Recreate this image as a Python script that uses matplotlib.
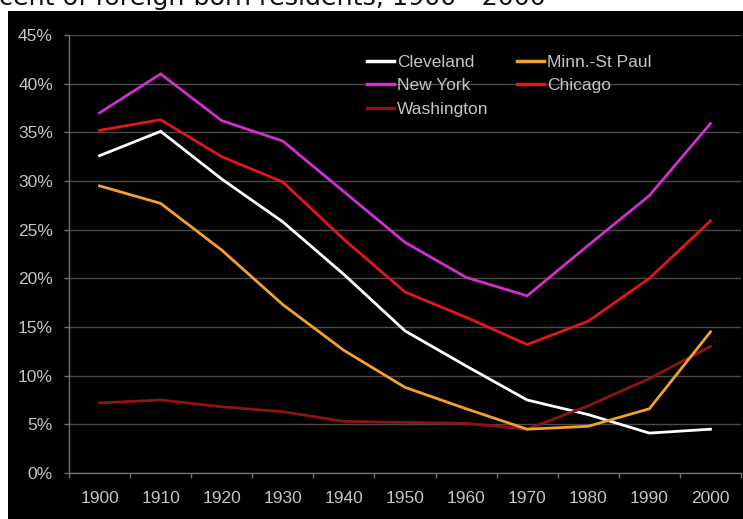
import matplotlib
matplotlib.use("Agg")
import matplotlib.pyplot as plt
from matplotlib.patches import Rectangle

years = ["1900", "1910", "1920", "1930", "1940", "1950", "1960", "1970", "1980", "1990", "2000"]
cleveland = [32.6, 35.1, 30.2, 25.8, 20.4, 14.6, 11.0, 7.5, 6.0, 4.1, 4.5]
minn_st_paul = [29.5, 27.7, 22.9, 17.3, 12.6, 8.8, 6.6, 4.5, 4.8, 6.6, 14.5]
new_york = [37.0, 41.0, 36.2, 34.1, 28.9, 23.7, 20.1, 18.2, 23.4, 28.5, 35.9]
chicago = [35.2, 36.3, 32.5, 29.9, 24.0, 18.6, 16.0, 13.2, 15.6, 20.0, 25.9]
washington = [7.2, 7.5, 6.8, 6.3, 5.3, 5.2, 5.1, 4.5, 6.9, 9.7, 13.0]
title_text = "cent of foreign-born residents, 1900 - 2000"

W, H = 743, 519
fig = plt.figure(figsize=(W / 100, H / 100), dpi=100, facecolor="white")
# black panel behind the chart
fig.patches.append(Rectangle((8 / W, 0), 1 - 8 / W, 1 - 11 / H, transform=fig.transFigure,
                             facecolor="black", edgecolor="none", zorder=-5))
fig.text(-1 / W, 1 - 5.5 / H, title_text, ha="left", va="baseline", fontsize=18.3,
         family="DejaVu Sans", color="#111111", zorder=-4)

ax = fig.add_axes([69 / W, 1 - 473 / H, (741 - 69) / W, (473 - 35) / H])
ax.set_facecolor("black")
x = list(range(len(years)))
series = [
    ("Cleveland", cleveland, "#ffffff"),
    ("New York", new_york, "#d22ed2"),
    ("Washington", washington, "#8e1414"),
    ("Minn.-St Paul", minn_st_paul, "#f2a12c"),
    ("Chicago", chicago, "#e3161b"),
]
handles = []
for name, vals, col in series:
    h, = ax.plot(x, vals, color=col, lw=2.0, label=name, solid_joinstyle="miter")
    handles.append(h)

ax.set_xlim(-0.5, len(years) - 0.5)
ax.set_ylim(0, 45)
ax.set_yticks(range(0, 46, 5))
ax.set_yticklabels([f"{v}%" for v in range(0, 46, 5)])
ax.set_xticks(x)
ax.set_xticklabels(years)
ax.set_xticks([i - 0.5 for i in range(len(years) + 1)], minor=True)
ax.tick_params(axis="x", which="major", length=0, pad=12.8)
ax.tick_params(axis="x", which="minor", length=3.6, color="#707070", width=1)
ax.tick_params(axis="y", length=3.6, color="#707070", width=1, pad=8)
for lab in ax.get_xticklabels() + ax.get_yticklabels():
    lab.set_family("Liberation Sans")
    lab.set_fontsize(12.5)
    lab.set_color("#c4c4c4")
ax.grid(axis="y", color="#4a4a4a", lw=1)
ax.set_axisbelow(True)
for s in ["top", "right"]:
    ax.spines[s].set_visible(False)
for s in ["left", "bottom"]:
    ax.spines[s].set_color("#707070")
    ax.spines[s].set_linewidth(1)

leg = fig.legend(handles=handles, loc="upper left", bbox_to_anchor=(367 / W, 1 - 55 / H),
                 ncol=2, frameon=False, borderpad=0, borderaxespad=0,
                 handlelength=1.55, handletextpad=0.17, columnspacing=1.65, labelspacing=0.47,
                 prop={"family": "Liberation Sans", "size": 12.5})
for t in leg.get_texts():
    t.set_color("#c4c4c4")
for l in leg.get_lines():
    l.set_linewidth(2.5)

fig.savefig("out.png", dpi=100, facecolor="white")
